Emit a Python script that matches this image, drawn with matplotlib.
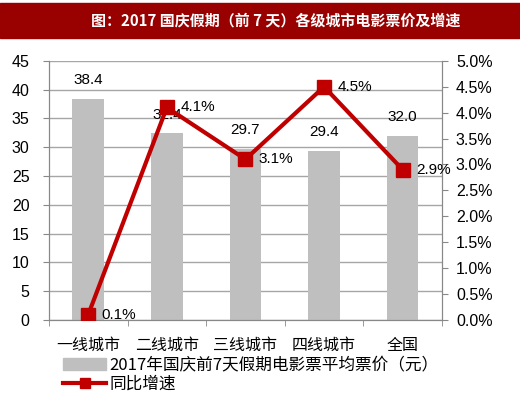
import matplotlib.pyplot as plt
from matplotlib.patches import Rectangle
from matplotlib.lines import Line2D
from matplotlib.ticker import FuncFormatter

plt.rcParams['font.family'] = ['Noto Sans CJK SC', 'DejaVu Sans']
num_font = ['Liberation Sans', 'DejaVu Sans']

cities = ['一线城市', '二线城市', '三线城市', '四线城市', '全国']
price = [38.4, 32.4, 29.7, 29.4, 32.0]
growth = [0.1, 4.1, 3.1, 4.5, 2.9]
bar_name = '2017年国庆前7天假期电影票平均票价（元）'
line_name = '同比增速'
title = '图：2017 国庆假期（前 7 天）各级城市电影票价及增速'

fig = plt.figure(figsize=(5.2, 3.95), dpi=100)

# title band
fig.patches.append(Rectangle((0, 0.903), 1, 0.09, transform=fig.transFigure,
                             color='#990000', zorder=0))
fig.text(0.53, 0.948, title, color='white', fontsize=10.8, fontweight='bold',
         ha='center', va='center')

ax = fig.add_axes([0.094, 0.19, 0.756, 0.656])
x = list(range(len(cities)))
ax.bar(x, price, width=0.4, color='#BFBFBF', zorder=2)
for xi, v in zip(x, price):
    ax.text(xi, v + 2.0, f'{v:.1f}', ha='center', va='bottom', fontsize=11,
            family=num_font)

ax.set_ylim(0, 45)
ax.set_yticks(range(0, 46, 5))
ax.set_xlim(-0.5, len(cities) - 0.5)
ax.set_xticks(x)
ax.set_xticklabels(cities, fontsize=11.5)
ax.set_xticks([i - 0.5 for i in range(len(cities) + 1)], minor=True)
ax.tick_params(axis='x', which='major', length=0, pad=12)
ax.tick_params(axis='x', which='minor', length=4, color='#888888')
ax.tick_params(axis='y', length=4, pad=10, color='#888888', labelsize=11.5,
               labelfontfamily='Liberation Sans')
ax.grid(axis='y', color='#A6A6A6', linewidth=1, zorder=0)
ax.spines['top'].set_visible(False)
for s in ['left', 'right', 'bottom']:
    ax.spines[s].set_color('#888888')

ax2 = ax.twinx()
ax2.plot(x, growth, color='#C00000', linewidth=3, marker='s', markersize=10, zorder=3)
for xi, v in zip(x, growth):
    ax2.text(xi + 0.17, v, f'{v:.1f}%', ha='left', va='center', fontsize=11,
             family=num_font)
ax2.set_ylim(0, 5)
ax2.set_yticks([i * 0.5 for i in range(11)])
ax2.yaxis.set_major_formatter(FuncFormatter(lambda v, p: f'{v:.1f}%'))
ax2.tick_params(axis='y', length=4, pad=6, color='#888888', labelsize=11.5,
                labelfontfamily='Liberation Sans')
ax2.spines['top'].set_visible(False)
for s in ['left', 'right', 'bottom']:
    ax2.spines[s].set_color('#888888')

handles = [Rectangle((0, 0), 1, 1, color='#BFBFBF'),
           Line2D([0], [0], color='#C00000', linewidth=3, marker='s', markersize=7)]
fig.legend(handles, [bar_name, line_name], loc='upper left',
           bbox_to_anchor=(0.105, 0.118), frameon=False, fontsize=12,
           handlelength=2.6, handletextpad=0.2, labelspacing=0.1, borderpad=0)

fig.savefig('out.png', dpi=100)
